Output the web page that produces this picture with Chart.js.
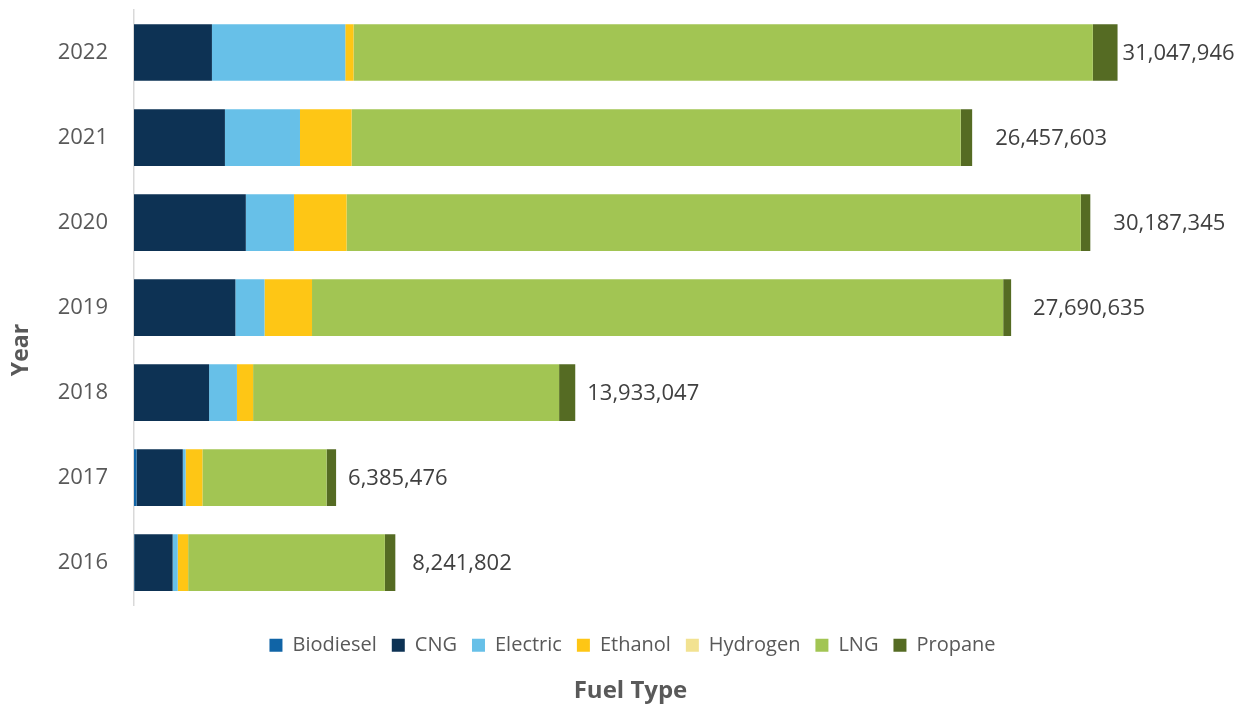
<!DOCTYPE html>
<html>
<head>
<meta charset="utf-8">
<script src="https://cdn.jsdelivr.net/npm/chart.js@4/dist/chart.umd.min.js"></script>
<style>
  html, body { margin: 0; padding: 0; background: #ffffff; }
  #wrap { width: 1240px; height: 706px; }
</style>
</head>
<body>
<div id="wrap"><canvas id="c" width="1240" height="706"></canvas></div>
<script>
const years = ['2022', '2021', '2020', '2019', '2018', '2017', '2016'];
const biodiesel = [0, 0, 0, 0, 0, 80000, 10000];
const cng = [2460000, 2870000, 3530000, 3200000, 2370000, 1460000, 1210000];
const electric = [4210000, 2370000, 1520000, 920000, 880000, 90000, 160000];
const ethanol = [260000, 1630000, 1660000, 1500000, 510000, 530000, 330000];
const hydrogen = [0, 0, 0, 0, 0, 0, 0];
const lng = [23340000, 19230000, 23180000, 21820000, 9660000, 3920000, 6210000];
const propane = [780000, 360000, 300000, 250000, 510000, 300000, 330000];
const totals = [31047946, 26457603, 30187345, 27690635, 13933047, 6385476, 8241802];

const FONT = "'Open Sans', 'Noto Sans', sans-serif";

// presentation: gap (px) between each bar end and its total label
const labelGap = [5, 23, 23, 22, 12, 12, 17];

const totalLabels = {
  id: 'totalLabels',
  afterLayout(chart) {
    // shift the bottom legend and title to match the original's horizontal centering
    if (chart.legend) { chart.legend.left += 27; chart.legend.right += 27; }
    if (chart.titleBlock) { chart.titleBlock.left += 25; chart.titleBlock.right += 25; }
  },
  afterDatasetsDraw(chart) {
    const ctx = chart.ctx;
    const last = chart.getDatasetMeta(chart.data.datasets.length - 1);
    ctx.save();
    ctx.font = "22px " + FONT;
    ctx.fillStyle = '#404040';
    ctx.textAlign = 'left';
    ctx.textBaseline = 'middle';
    last.data.forEach((el, i) => {
      ctx.fillText(totals[i].toLocaleString('en-US'), el.x + labelGap[i], el.y + 1);
    });
    // y-axis title
    ctx.translate(21, 350);
    ctx.rotate(-Math.PI / 2);
    ctx.font = "bold 23px " + FONT;
    ctx.fillStyle = '#595959';
    ctx.textAlign = 'center';
    ctx.fillText('Year', 0, 0);
    ctx.restore();
  }
};

new Chart(document.getElementById('c'), {
  type: 'bar',
  data: {
    labels: years,
    datasets: [
      { label: 'Biodiesel', data: biodiesel, backgroundColor: '#1064A6' },
      { label: 'CNG', data: cng, backgroundColor: '#0D3254' },
      { label: 'Electric', data: electric, backgroundColor: '#67C0E8' },
      { label: 'Ethanol', data: ethanol, backgroundColor: '#FEC615' },
      { label: 'Hydrogen', data: hydrogen, backgroundColor: '#F2E291' },
      { label: 'LNG', data: lng, backgroundColor: '#A2C553' },
      { label: 'Propane', data: propane, backgroundColor: '#556B23' }
    ]
  },
  options: {
    indexAxis: 'y',
    responsive: false,
    animation: false,
    maintainAspectRatio: false,
    datasets: { bar: { categoryPercentage: 1, barPercentage: 0.667 } },
    layout: { padding: { top: 10, right: 29, left: 0, bottom: 0 } },
    scales: {
      x: {
        stacked: true, display: false, min: 0, max: 34000000
      },
      y: {
        stacked: true,
        afterFit(s) { s.width = 134; s.paddingTop = 0; s.paddingBottom = 0; },
        grid: { display: false, drawTicks: false },
        border: { display: true, color: '#d9d9d9', width: 1.5 },
        ticks: { color: '#595959', font: { family: FONT, size: 22 }, padding: 26 },
        title: { display: false, text: 'Year' }
      }
    },
    plugins: {
      legend: {
        position: 'bottom',
        title: { display: true, text: ' ', font: { size: 10 }, padding: { top: 0, bottom: 3 } },
        labels: {
          color: '#595959', boxWidth: 13, boxHeight: 13, padding: 15,
          font: { family: FONT, size: 20 }
        }
      },
      title: {
        display: true, position: 'bottom', text: 'Fuel Type', color: '#595959',
        font: { family: FONT, size: 24, weight: 'bold' },
        padding: { top: 12, bottom: 0 }
      },
      tooltip: { enabled: false }
    }
  },
  plugins: [totalLabels]
});
</script>
</body>
</html>
